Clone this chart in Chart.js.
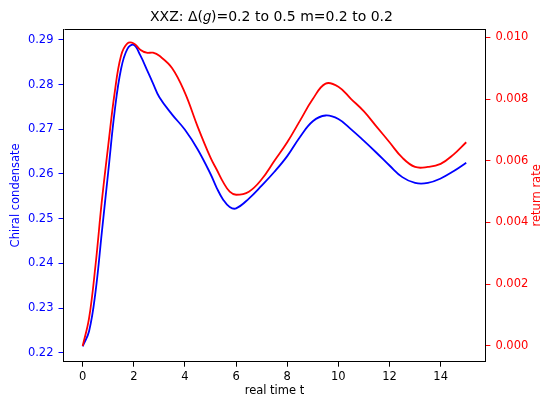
<!DOCTYPE html>
<html>
<head>
<meta charset="utf-8">
<script src="https://cdn.jsdelivr.net/npm/chart.js@4/dist/chart.umd.min.js"></script>
<style>
  html, body { margin: 0; padding: 0; background: #fff; }
  #wrap { width: 543px; height: 401px; }
</style>
</head>
<body>
<div id="wrap"><canvas id="c" width="543" height="401"></canvas></div>
<script>
// real time samples
const times = [0, 0.25, 0.5, 0.75, 1.0, 1.25, 1.5, 1.75, 2.0, 2.25, 2.5, 2.75, 3.0, 3.5, 4.0, 4.5, 5.0, 5.25, 5.5, 5.75, 6.0, 6.5,
               7.0, 7.5, 8.0, 8.5, 9.0, 9.5, 10.0, 10.5, 11.0, 11.5, 12.0, 12.5, 13.0, 13.5, 14.0, 14.5, 15.0];

// chiral condensate (left axis)
const condensate = [0.2214, 0.2248, 0.2335, 0.2470, 0.2605, 0.2740, 0.2835, 0.2880, 0.2889, 0.2866, 0.2835, 0.2803, 0.2772,
                    0.2733, 0.2699, 0.2655, 0.2600, 0.2568, 0.2542, 0.2526, 0.2523, 0.2545, 0.2574, 0.2605, 0.2640, 0.2683, 0.2718,
                    0.2731, 0.2723, 0.2700, 0.2674, 0.2647, 0.2619, 0.2593, 0.2580, 0.2580, 0.2590, 0.2606, 0.2625];

// return rate (right axis)
const returnRate = [0.0000, 0.0009, 0.0026, 0.0047, 0.0065, 0.0082, 0.0094, 0.0098, 0.0098, 0.0096, 0.0095, 0.0095, 0.0094,
                    0.0090, 0.0082, 0.0071, 0.0061, 0.0057, 0.0053, 0.0050, 0.0049, 0.0050, 0.0054, 0.0060, 0.0066, 0.0073, 0.0080,
                    0.0085, 0.0084, 0.0080, 0.0076, 0.0071, 0.0066, 0.0061, 0.0058, 0.0058, 0.0059, 0.0062, 0.0066];

// tick labels
const xTicks = [0, 2, 4, 6, 8, 10, 12, 14];
const leftTicks = [0.22, 0.23, 0.24, 0.25, 0.26, 0.27, 0.28, 0.29];
const rightTicks = [0.000, 0.002, 0.004, 0.006, 0.008, 0.010];

const FONT = 'DejaVu Sans';
const BLUE = '#0000ff';
const RED = '#ff0000';

const toPoints = (xs, ys) => xs.map((x, i) => ({ x: x, y: ys[i] }));
const fixedTicks = list => scale => { scale.ticks = list.map(v => ({ value: v })); };

// top spine of the axes box and the right-hand axis label
const frame = {
  id: 'frame',
  afterDraw(chart) {
    const { ctx, chartArea: a } = chart;
    ctx.save();
    ctx.strokeStyle = '#000';
    ctx.lineWidth = 1;
    ctx.beginPath();
    ctx.moveTo(Math.round(a.left) + 0.5, Math.round(a.top) + 0.5);
    ctx.lineTo(Math.round(a.right) + 0.5, Math.round(a.top) + 0.5);
    ctx.stroke();
    ctx.translate(537, (a.top + a.bottom) / 2);
    ctx.rotate(-Math.PI / 2);
    ctx.fillStyle = RED;
    ctx.font = '11.5px "' + FONT + '"';
    ctx.textAlign = 'center';
    ctx.textBaseline = 'middle';
    ctx.fillText('return rate', 0, 0);
    ctx.restore();
  }
};

new Chart(document.getElementById('c'), {
  type: 'line',
  data: {
    datasets: [
      {
        label: 'Chiral condensate',
        data: toPoints(times, condensate),
        yAxisID: 'yL',
        borderColor: BLUE,
        borderWidth: 1.8,
        pointRadius: 0,
        tension: 0.4,
        fill: false,
        order: 2
      },
      {
        label: 'return rate',
        data: toPoints(times, returnRate),
        yAxisID: 'yR',
        borderColor: RED,
        borderWidth: 1.8,
        pointRadius: 0,
        tension: 0.4,
        fill: false,
        order: 1
      }
    ]
  },
  options: {
    responsive: false,
    animation: false,
    devicePixelRatio: 1,
    layout: { padding: 0 },
    plugins: {
      legend: { display: false },
      tooltip: { enabled: false },
      title: {
        display: true,
        text: 'XXZ: \u0394(\uD835\uDC54)=0.2 to 0.5 m=0.2 to 0.2',
        color: '#000',
        font: { family: FONT, size: 14, weight: 'normal' },
        padding: { top: 9, bottom: 3.2 }
      }
    },
    scales: {
      x: {
        type: 'linear',
        position: 'bottom',
        min: -0.75,
        max: 15.75,
        afterBuildTicks: fixedTicks(xTicks),
        afterFit: s => { s.height = 39.3; },
        ticks: {
          color: '#000',
          font: { family: FONT, size: 11.5 },
          padding: 3,
          maxRotation: 0,
          callback: v => String(v)
        },
        grid: { drawOnChartArea: false, drawTicks: true, tickLength: 5, tickColor: '#000' },
        border: { display: true, color: '#000', width: 1 },
        title: {
          display: true,
          text: 'real time t',
          color: '#000',
          font: { family: FONT, size: 11.5 },
          padding: { top: 0, bottom: 3 }
        }
      },
      yL: {
        type: 'linear',
        position: 'left',
        min: 0.21798,
        max: 0.29246,
        afterBuildTicks: fixedTicks(leftTicks),
        afterFit: s => { s.width = 63.5; },
        ticks: {
          color: BLUE,
          font: { family: FONT, size: 11.5 },
          padding: 5,
          callback: v => v.toFixed(2)
        },
        grid: { drawOnChartArea: false, drawTicks: true, tickLength: 5, tickColor: BLUE },
        border: { display: true, color: '#000', width: 1 },
        title: {
          display: true,
          text: 'Chiral condensate',
          color: BLUE,
          font: { family: FONT, size: 11.5 },
          padding: { top: 9, bottom: 0 }
        }
      },
      yR: {
        type: 'linear',
        position: 'right',
        min: -0.000509,
        max: 0.010269,
        afterBuildTicks: fixedTicks(rightTicks),
        afterFit: s => { s.width = 57.6; },
        ticks: {
          color: RED,
          font: { family: FONT, size: 11.5 },
          padding: 5,
          callback: v => v.toFixed(3)
        },
        grid: { drawOnChartArea: false, drawTicks: true, tickLength: 5, tickColor: RED },
        border: { display: true, color: '#000', width: 1 }
      }
    }
  },
  plugins: [frame]
});
</script>
</body>
</html>
